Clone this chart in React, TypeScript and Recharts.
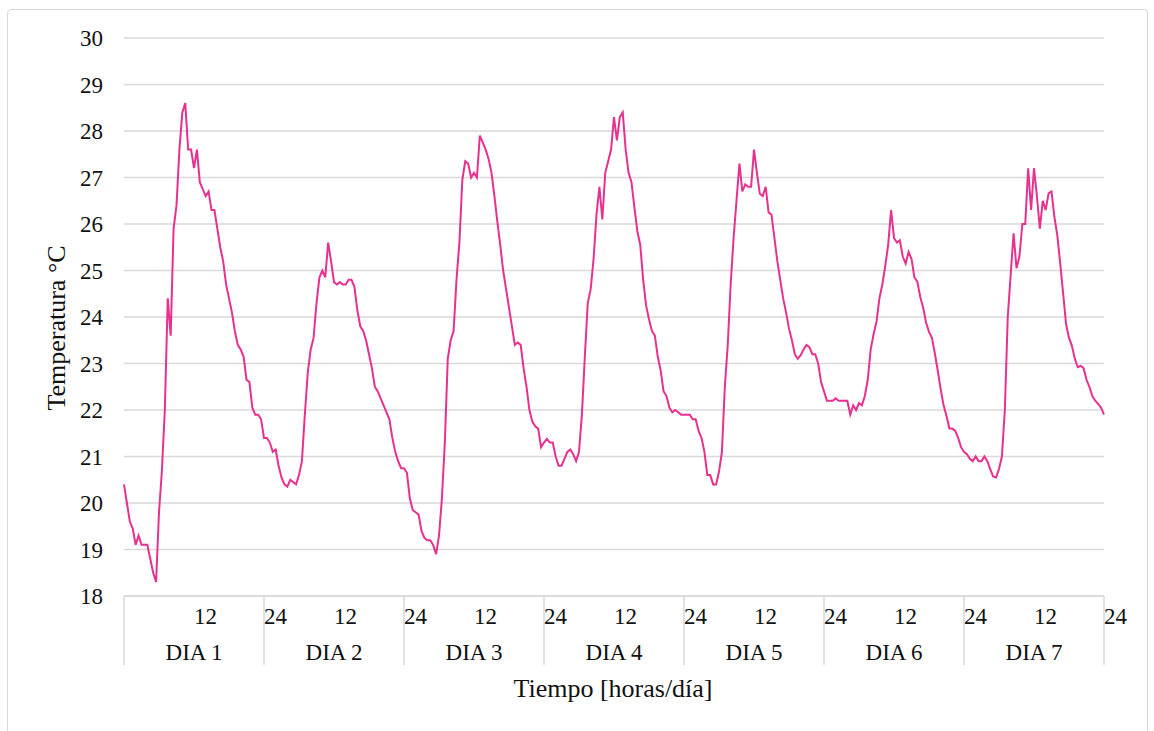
import { LineChart, Line, XAxis, YAxis, CartesianGrid } from "recharts";

// temperatura cada 30 min, 48 lecturas por dia
const DAY_1 = [20.4, 20.0, 19.6, 19.45, 19.1, 19.3, 19.1, 19.1, 19.1, 18.8, 18.5, 18.3, 19.8, 20.7, 22.0, 24.4, 23.6, 25.9, 26.4, 27.6, 28.4, 28.6, 27.6, 27.6, 27.2, 27.6, 26.9, 26.75, 26.6, 26.7, 26.3, 26.3, 25.9, 25.5, 25.2, 24.7, 24.4, 24.1, 23.7, 23.4, 23.3, 23.15, 22.65, 22.6, 22.05, 21.9, 21.9, 21.8];
const DAY_2 = [21.4, 21.4, 21.3, 21.1, 21.15, 20.8, 20.55, 20.4, 20.35, 20.5, 20.45, 20.4, 20.6, 20.9, 21.9, 22.8, 23.3, 23.55, 24.3, 24.85, 25.0, 24.85, 25.6, 25.2, 24.75, 24.7, 24.75, 24.7, 24.7, 24.8, 24.8, 24.65, 24.15, 23.8, 23.7, 23.5, 23.2, 22.9, 22.5, 22.4, 22.25, 22.1, 21.95, 21.8, 21.4, 21.1, 20.9, 20.75];
const DAY_3 = [20.75, 20.65, 20.1, 19.85, 19.8, 19.75, 19.4, 19.25, 19.2, 19.2, 19.1, 18.9, 19.3, 20.1, 21.3, 23.1, 23.5, 23.7, 24.8, 25.6, 26.95, 27.35, 27.3, 27.0, 27.1, 27.0, 27.9, 27.75, 27.6, 27.4, 27.1, 26.6, 26.05, 25.55, 25.0, 24.6, 24.2, 23.8, 23.4, 23.45, 23.4, 22.9, 22.5, 22.0, 21.75, 21.65, 21.6, 21.2];
const DAY_4 = [21.3, 21.38, 21.3, 21.3, 21.0, 20.8, 20.8, 20.95, 21.1, 21.15, 21.05, 20.9, 21.1, 21.9, 23.15, 24.3, 24.6, 25.25, 26.2, 26.8, 26.1, 27.1, 27.35, 27.6, 28.3, 27.8, 28.3, 28.4, 27.6, 27.1, 26.9, 26.35, 25.85, 25.55, 24.8, 24.25, 23.95, 23.7, 23.6, 23.15, 22.85, 22.4, 22.3, 22.05, 21.95, 22.0, 21.95, 21.9];
const DAY_5 = [21.9, 21.9, 21.9, 21.8, 21.8, 21.55, 21.4, 21.1, 20.6, 20.6, 20.4, 20.4, 20.67, 21.1, 22.5, 23.4, 24.7, 25.7, 26.5, 27.3, 26.7, 26.85, 26.8, 26.8, 27.6, 27.1, 26.65, 26.6, 26.8, 26.25, 26.2, 25.7, 25.2, 24.8, 24.4, 24.1, 23.75, 23.5, 23.2, 23.1, 23.18, 23.3, 23.4, 23.35, 23.2, 23.2, 23.0, 22.6];
const DAY_6 = [22.4, 22.2, 22.2, 22.2, 22.25, 22.2, 22.2, 22.2, 22.2, 21.9, 22.1, 22.0, 22.15, 22.1, 22.3, 22.65, 23.3, 23.63, 23.9, 24.4, 24.7, 25.1, 25.55, 26.3, 25.7, 25.6, 25.65, 25.3, 25.15, 25.4, 25.25, 24.85, 24.76, 24.43, 24.2, 23.88, 23.68, 23.55, 23.22, 22.85, 22.45, 22.1, 21.87, 21.6, 21.6, 21.55, 21.4, 21.2];
const DAY_7 = [21.1, 21.05, 20.95, 20.9, 21.0, 20.9, 20.9, 21.0, 20.9, 20.73, 20.57, 20.55, 20.73, 21.0, 22.0, 24.0, 24.9, 25.8, 25.05, 25.3, 26.0, 26.0, 27.2, 26.3, 27.2, 26.6, 25.9, 26.5, 26.3, 26.66, 26.7, 26.15, 25.75, 25.15, 24.5, 23.85, 23.55, 23.38, 23.1, 22.92, 22.95, 22.9, 22.65, 22.5, 22.3, 22.2, 22.13, 22.05];
const LAST_VALUE = 21.9;

const DAY_LABELS = ["DIA 1", "DIA 2", "DIA 3", "DIA 4", "DIA 5", "DIA 6", "DIA 7"];
const Y_TICKS = [18, 19, 20, 21, 22, 23, 24, 25, 26, 27, 28, 29, 30];
const X_TICKS = [0, 12, 24, 36, 48, 60, 72, 84, 96, 108, 120, 132, 144, 156, 168];

const days = [DAY_1, DAY_2, DAY_3, DAY_4, DAY_5, DAY_6, DAY_7];
const data: { t: number; temp: number }[] = [];
days.forEach((vals, d) => {
  vals.forEach((v, k) => data.push({ t: d * 24 + k * 0.5, temp: v }));
});
data.push({ t: 168, temp: LAST_VALUE });

const FONT = "'Liberation Serif', 'Times New Roman', serif";
const GRID = "#d9d9d9";

function HourTick(props: any) {
  const { x, y, payload } = props;
  const v = payload.value as number;
  if (v % 24 === 12) {
    const day = (v - 12) / 24;
    return (
      <g>
        <text x={x} y={y + 28} textAnchor="start" fontFamily={FONT} fontSize={23} fill="#111">
          12
        </text>
        <text x={x} y={y + 64} textAnchor="middle" fontFamily={FONT} fontSize={23} fill="#111">
          {DAY_LABELS[day]}
        </text>
      </g>
    );
  }
  return (
    <g>
      <line x1={x} y1={y} x2={x} y2={y + 69} stroke={GRID} strokeWidth={1.5} />
      {v > 0 && (
        <text x={x} y={y + 28} textAnchor="start" fontFamily={FONT} fontSize={23} fill="#111">
          24
        </text>
      )}
    </g>
  );
}

export default function App() {
  return (
    <div style={{ position: "absolute", left: 0, top: 0, width: 1154, height: 731, background: "#fff", overflow: "hidden" }}>
      <div
        style={{
          position: "absolute",
          left: 7,
          top: 9,
          width: 1139,
          height: 740,
          border: `1px solid ${GRID}`,
          borderRadius: 4,
        }}
      />
      <div style={{ position: "absolute", left: 0, top: 0 }}>
        <LineChart width={1154} height={731} data={data} margin={{ top: 38, right: 50, bottom: 65, left: 64 }}>
          <CartesianGrid vertical={false} stroke={GRID} strokeWidth={1.5} />
          <XAxis
            dataKey="t"
            type="number"
            domain={[0, 168]}
            ticks={X_TICKS}
            interval={0}
            height={70}
            tickSize={0}
            tickMargin={0}
            tickLine={false}
            axisLine={{ stroke: GRID, strokeWidth: 1.5 }}
            tick={<HourTick />}
          />
          <YAxis
            domain={[18, 30]}
            ticks={Y_TICKS}
            interval={0}
            width={60}
            tickSize={0}
            tickMargin={21}
            axisLine={false}
            tickLine={false}
            tick={{ fontFamily: FONT, fontSize: 23, fill: "#111" }}
          />
          <Line
            type="linear"
            dataKey="temp"
            stroke="#e8318f"
            strokeWidth={2}
            dot={false}
            isAnimationActive={false}
          />
        </LineChart>
      </div>
      <svg width={1154} height={731} style={{ position: "absolute", left: 0, top: 0, pointerEvents: "none" }}>
        <text
          x={0}
          y={0}
          transform="translate(65 328) rotate(-90)"
          textAnchor="middle"
          fontFamily={FONT}
          fontSize={26}
          fill="#111"
        >
          Temperatura °C
        </text>
        <text x={613} y={697} textAnchor="middle" fontFamily={FONT} fontSize={26} fill="#111">
          Tiempo [horas/día]
        </text>
      </svg>
    </div>
  );
}
